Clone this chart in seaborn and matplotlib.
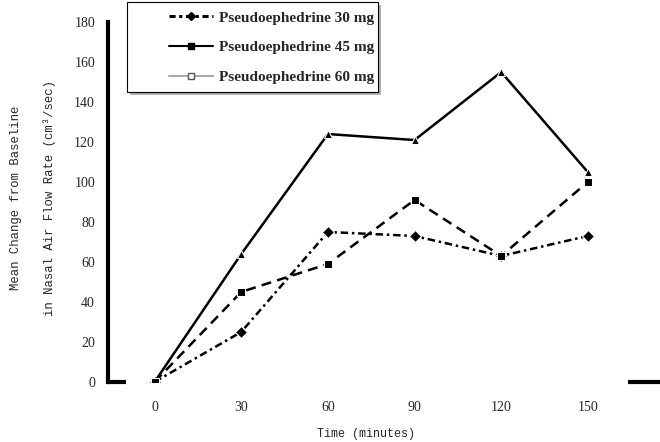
import pandas as pd
import matplotlib.pyplot as plt
import seaborn as sns
from matplotlib.lines import Line2D
from matplotlib.patches import Rectangle

# values
time_min = [0, 30, 60, 90, 120, 150]
dose_30 = [0, 25, 75, 73, 63, 73]
dose_45 = [0, 64, 124, 121, 155, 105]
dose_60 = [0, 45, 59, 91, 63, 100]
series_names = ['Pseudoephedrine 30 mg', 'Pseudoephedrine 45 mg', 'Pseudoephedrine 60 mg']
x_ticks = [0, 30, 60, 90, 120, 150]
y_ticks = [0, 20, 40, 60, 80, 100, 120, 140, 160, 180]

df = pd.DataFrame({
    'time': time_min * 3,
    'change': dose_30 + dose_45 + dose_60,
    'dose': [n for n in series_names for _ in time_min],
})

sns.set_style('white')
plt.rcParams['font.family'] = ['Liberation Serif', 'DejaVu Serif']

fig = plt.figure(figsize=(6.6, 4.42), dpi=100)
ax = fig.add_axes([0.163, 0.136, 0.837, 0.814])

sns.lineplot(
    data=df, x='time', y='change', hue='dose', style='dose',
    palette={n: 'black' for n in series_names},
    dashes={series_names[0]: (3, 1.5, 1, 1.5),
            series_names[1]: '',
            series_names[2]: (4, 2.5)},
    markers={series_names[0]: 'D', series_names[1]: '^', series_names[2]: 's'},
    markersize=6, linewidth=1.8, legend=False, ax=ax,
)
ax.set_xlabel('')
ax.set_ylabel('')

ax.set_xlim(-16.3, 175)
ax.set_ylim(0, 180)
ax.set_xticks(x_ticks)
ax.set_xticklabels([str(v) for v in x_ticks], fontsize=10)
ax.set_xticks([15, 45, 75, 105, 135], minor=True)
ax.set_yticks(y_ticks)
ax.set_yticklabels([str(v) for v in y_ticks], fontsize=10)
ax.tick_params(axis='both', which='major', length=0)
ax.tick_params(axis='x', which='major', pad=14)
ax.tick_params(axis='y', which='major', pad=9)
ax.tick_params(axis='x', which='minor', length=2, width=1, color='black', direction='out')

for side in ['top', 'right', 'bottom']:
    ax.spines[side].set_visible(False)
ax.spines['left'].set_linewidth(3)
ax.spines['left'].set_color('black')

# broken bottom axis segments as in the scan
ax.plot([-16.3, -10], [0, 0], color='black', lw=3, clip_on=False, solid_capstyle='butt')
ax.plot([164, 175], [0, 0], color='black', lw=3, clip_on=False, solid_capstyle='butt')

fig.text(0.555, 0.018, 'Time (minutes)', fontsize=8.5, family='Liberation Mono',
         ha='center', va='center')
fig.text(0.05, 0.552, 'Mean Change from Baseline\nin Nasal Air Flow Rate (cm\u00b3/sec)',
         fontsize=8.8, family='Liberation Mono', linespacing=3.2,
         rotation=90, ha='center', va='center')

# legend box with shadow, drawn in figure coords
fig.patches.append(Rectangle((0.197, 0.785), 0.380, 0.204, transform=fig.transFigure,
                             facecolor='#b0b0b0', edgecolor='none', zorder=4))
fig.patches.append(Rectangle((0.192, 0.792), 0.380, 0.204, transform=fig.transFigure,
                             facecolor='white', edgecolor='black', linewidth=0.8, zorder=5))

handles = [
    Line2D([], [], color='black', lw=2.2, dashes=(2, 1.2, 1, 1.2), marker='D', markersize=4),
    Line2D([], [], color='black', lw=1.5, marker='s', markersize=4),
    Line2D([], [], color='#aaaaaa', lw=1.5, marker='s', markersize=4,
           markerfacecolor='white', markeredgecolor='#555555'),
]
leg = fig.legend(handles, series_names, loc='upper left', bbox_to_anchor=(0.256, 0.975),
                 prop={'family': 'Liberation Serif', 'weight': 'bold', 'size': 11},
                 frameon=False, labelspacing=1.05, handlelength=2.9, handletextpad=0.35,
                 borderpad=0, borderaxespad=0)
leg.set_zorder(6)

fig.savefig('out.png', dpi=100)
